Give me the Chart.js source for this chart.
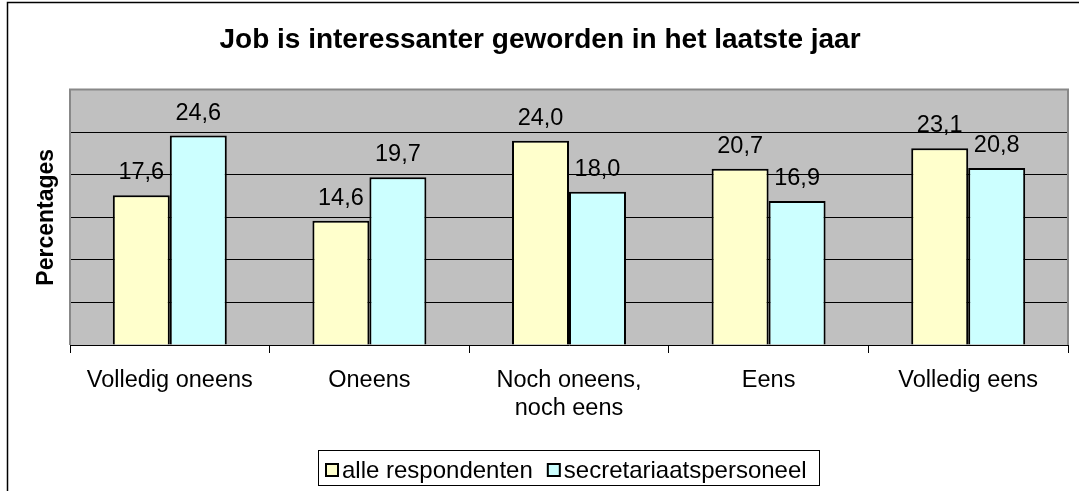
<!DOCTYPE html>
<html><head><meta charset="utf-8">
<script src="https://cdn.jsdelivr.net/npm/chart.js@4/dist/chart.umd.min.js"></script>
<style>html,body{margin:0;padding:0;background:#fff;overflow:hidden}#wrap{width:1079px;height:491px;position:relative}</style>
</head><body><div id="wrap"><canvas id="c" width="1079" height="491"></canvas></div>
<script>
const categories = ['Volledig oneens', 'Oneens', ['Noch oneens,', 'noch eens'], 'Eens', 'Volledig eens'];
const seriesNames = ['alle respondenten', 'secretariaatspersoneel'];
const alleRespondenten = [17.6, 14.6, 24.0, 20.7, 23.1];
const secretariaatspersoneel = [24.6, 19.7, 18.0, 16.9, 20.8];
const yTicks = [0, 5, 10, 15, 20, 25, 30];
const seriesColors = ['#FFFFCC', '#CCFFFF'];

const FONT = 'Liberation Sans, Arial, Helvetica, sans-serif';

const framePlugin = {
  id: 'frame',
  beforeDraw(chart) {
    const ctx = chart.ctx;
    const a = chart.chartArea;
    ctx.save();
    ctx.fillStyle = '#fff';
    ctx.fillRect(0, 0, chart.width, chart.height);
    ctx.strokeStyle = '#000';
    ctx.lineWidth = 1.5;
    ctx.strokeRect(7.5, 2.5, 2000, 2000);
    ctx.fillStyle = '#C0C0C0';
    ctx.fillRect(a.left, a.top, a.right - a.left, a.bottom - a.top);
    ctx.restore();
  },
  beforeDatasetsDraw(chart) {
    const ctx = chart.ctx;
    const a = chart.chartArea;
    ctx.save();
    ctx.strokeStyle = '#888';
    ctx.lineWidth = 2;
    ctx.beginPath();
    ctx.moveTo(a.left, a.bottom);
    ctx.lineTo(a.left, a.top);
    ctx.lineTo(a.right, a.top);
    ctx.lineTo(a.right, a.bottom);
    ctx.stroke();
    ctx.restore();
  }
};

const labelPlugin = {
  id: 'valueLabels',
  afterDatasetsDraw(chart) {
    const ctx = chart.ctx;
    ctx.save();
    ctx.fillStyle = '#000';
    ctx.font = '23.5px ' + FONT;
    ctx.textAlign = 'center';
    ctx.textBaseline = 'alphabetic';
    chart.data.datasets.forEach((ds, i) => {
      const meta = chart.getDatasetMeta(i);
      meta.data.forEach((el, j) => {
        const txt = ds.data[j].toFixed(1).replace('.', ',');
        ctx.fillText(txt, el.x, el.y - 16);
      });
    });
    ctx.restore();
  }
};

const legendPlugin = {
  id: 'boxLegend',
  afterDraw(chart) {
    const ctx = chart.ctx;
    ctx.save();
    ctx.fillStyle = '#fff';
    ctx.fillRect(318, 450, 501, 36);
    ctx.strokeStyle = '#000';
    ctx.lineWidth = 1;
    ctx.strokeRect(318.5, 450.5, 501, 35);
    ctx.font = '24px ' + FONT;
    ctx.textBaseline = 'alphabetic';
    ctx.textAlign = 'left';
    let x = 325;
    chart.data.datasets.forEach((ds) => {
      ctx.fillStyle = ds.backgroundColor;
      ctx.fillRect(x, 463, 14, 14);
      ctx.strokeStyle = '#000';
      ctx.lineWidth = 2;
      ctx.strokeRect(x + 1, 464, 12, 12);
      ctx.fillStyle = '#000';
      ctx.fillText(ds.label, x + 17, 478);
      x += 17 + ctx.measureText(ds.label).width + 14;
    });
    ctx.restore();
  }
};

new Chart(document.getElementById('c'), {
  type: 'bar',
  data: {
    labels: categories,
    datasets: [
      { label: seriesNames[0], data: alleRespondenten, backgroundColor: seriesColors[0], borderColor: '#000', borderWidth: 2 },
      { label: seriesNames[1], data: secretariaatspersoneel, backgroundColor: seriesColors[1], borderColor: '#000', borderWidth: 2 }
    ]
  },
  options: {
    responsive: false,
    devicePixelRatio: 1,
    animation: false,
    layout: { padding: { left: 12, right: 11, top: 0, bottom: 0 } },
    datasets: { bar: { categoryPercentage: 0.571, barPercentage: 1.0 } },
    plugins: {
      legend: { display: false },
      tooltip: { enabled: false },
      title: {
        display: true,
        text: 'Job is interessanter geworden in het laatste jaar',
        color: '#000',
        font: { family: FONT, size: 28, weight: 'bold' },
        padding: { top: 23, bottom: 33 }
      }
    },
    scales: {
      x: {
        grid: { display: true, drawOnChartArea: false, drawTicks: true, tickLength: 8, color: '#000', lineWidth: 1, offset: true },
        border: { display: true, color: '#000', width: 1 },
        ticks: { color: '#000', font: { family: FONT, size: 23.5 }, padding: 13, maxRotation: 0, autoSkip: false },
        afterFit(s) { s.height = 146; }
      },
      y: {
        min: 0, max: 30,
        afterBuildTicks(s) { s.ticks = yTicks.map(v => ({ value: v })); },
        ticks: { display: false },
        grid: { drawTicks: false, lineWidth: 1, color: (c) => (c.tick && (c.tick.value === 30 || c.tick.value === 0)) ? 'rgba(0,0,0,0)' : '#000' },
        border: { display: false },
        title: { display: true, text: 'Percentages', color: '#000', font: { family: FONT, size: 23, weight: 'bold' }, padding: { top: 21, bottom: 0 } },
        afterFit(s) { s.width = 58; }
      }
    }
  },
  plugins: [framePlugin, labelPlugin, legendPlugin]
});
</script>
</body></html>
